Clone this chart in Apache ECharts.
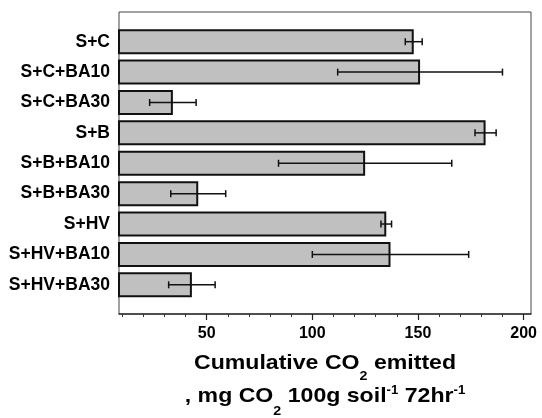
<!DOCTYPE html>
<html>
<head>
<meta charset="utf-8">
<script src="https://cdn.jsdelivr.net/npm/echarts@6/dist/echarts.min.js"></script>
<style>
  html, body { margin: 0; padding: 0; background: #fff; }
  #chart { width: 542px; height: 418px; }
</style>
</head>
<body>
<div id="chart"></div>
<script>
// tratamentos (de cima para baixo)
const categories = ['S+C', 'S+C+BA10', 'S+C+BA30', 'S+B', 'S+B+BA10', 'S+B+BA30', 'S+HV', 'S+HV+BA10', 'S+HV+BA30'];
// CO2 acumulado (mg CO2 100g solo-1 72h-1)
const means = [148, 151, 34, 182, 125, 46, 135, 137, 43];
// desvio (barra de erro, +/-)
const errors = [4, 39, 11, 5, 41, 13, 2.5, 37, 11];
const minorTickValues = [10, 20, 30, 40, 60, 70, 80, 90, 110, 120, 130, 140, 160, 170, 180, 190];
const labelValues = [50, 100, 150, 200];

const xMin = 8.5;
const xMax = 203.5;
const font = '"Liberation Sans", Arial, sans-serif';

const chartDom = document.getElementById('chart');
const myChart = echarts.init(chartDom);

const errorData = means.map((m, i) => [m, i, errors[i]]);

// estilos do título do eixo X (com subscrito / sobrescrito)
const titleRich = {
    t: { fontFamily: font, fontWeight: 'bold', fontSize: 21, fill: '#000', lineHeight: 40 },
    s: { fontFamily: font, fontWeight: 'bold', fontSize: 13, fill: '#000', lineHeight: 13, verticalAlign: 'bottom' },
    s2: { fontFamily: font, fontWeight: 'bold', fontSize: 13, fill: '#000', lineHeight: 9, height: 9, verticalAlign: 'bottom' },
    u: { fontFamily: font, fontWeight: 'bold', fontSize: 12, fill: '#000', lineHeight: 29, height: 29, verticalAlign: 'top' }
};

const option = {
    animation: false,
    grid: [
        // moldura com o eixo X
        { left: 119, right: 11, top: 12, bottom: 104, show: true, borderColor: '#444', borderWidth: 1, backgroundColor: 'transparent', outerBoundsMode: 'none', containLabel: false },
        // área das barras
        { left: 119, right: 11, top: 26.5, height: 273.5, outerBoundsMode: 'none', containLabel: false }
    ],
    xAxis: [
        {
            // ticks principais + rótulos
            gridIndex: 0,
            type: 'value',
            min: xMin,
            max: xMax,
            splitLine: { show: false },
            axisLine: { show: true, lineStyle: { color: '#333', width: 1.5 } },
            axisTick: {
                show: true,
                length: 6,
                customValues: labelValues,
                lineStyle: { color: '#222', width: 1.2 }
            },
            axisLabel: {
                customValues: labelValues,
                color: '#000',
                fontFamily: font,
                fontWeight: 'bold',
                fontSize: 16,
                margin: 12
            }
        },
        {
            // ticks secundários
            gridIndex: 0,
            type: 'value',
            position: 'bottom',
            min: xMin,
            max: xMax,
            splitLine: { show: false },
            axisLine: { show: false },
            axisLabel: { show: false },
            axisTick: {
                show: true,
                length: 3,
                customValues: minorTickValues,
                lineStyle: { color: '#333', width: 1 }
            }
        },
        {
            gridIndex: 1,
            type: 'value',
            min: xMin,
            max: xMax,
            show: false
        }
    ],
    yAxis: [
        {
            gridIndex: 0,
            type: 'value',
            show: false
        },
        {
            gridIndex: 1,
            type: 'category',
            data: categories,
            inverse: true,
            axisLine: { show: false },
            axisTick: { show: false },
            axisLabel: {
                color: '#000',
                fontFamily: font,
                fontWeight: 'bold',
                fontSize: 17.5,
                margin: 9
            }
        }
    ],
    graphic: [
        {
            type: 'text',
            x: 325,
            y: 363,
            scaleX: 1.1,
            style: {
                text: '{t|Cumulative CO}{s|2}{t| emitted}',
                rich: titleRich,
                align: 'center',
                verticalAlign: 'middle'
            }
        },
        {
            type: 'text',
            x: 325,
            y: 396,
            scaleX: 1.1,
            style: {
                text: '{t|, mg CO}{s2|2}{t| 100g soil}{u|-1}{t| 72hr}{u|-1}',
                rich: titleRich,
                align: 'center',
                verticalAlign: 'middle'
            }
        }
    ],
    series: [
        {
            type: 'bar',
            xAxisIndex: 2,
            yAxisIndex: 1,
            data: means,
            barWidth: 25,
            itemStyle: {
                color: '#c0c0c0',
                borderColor: '#111',
                borderWidth: 2
            }
        },
        {
            // barras de erro
            type: 'custom',
            xAxisIndex: 2,
            yAxisIndex: 1,
            data: errorData,
            encode: { x: 0, y: 1 },
            z: 10,
            renderItem: function (params, api) {
                const m = api.value(0);
                const c = api.value(1);
                const e = api.value(2);
                const p1 = api.coord([m - e, c]);
                const p2 = api.coord([m + e, c]);
                const h = 3.5;
                const style = { stroke: '#111', lineWidth: 1.5 };
                return {
                    type: 'group',
                    children: [
                        { type: 'line', shape: { x1: p1[0], y1: p1[1], x2: p2[0], y2: p2[1] }, style: style },
                        { type: 'line', shape: { x1: p1[0], y1: p1[1] - h, x2: p1[0], y2: p1[1] + h }, style: style },
                        { type: 'line', shape: { x1: p2[0], y1: p2[1] - h, x2: p2[0], y2: p2[1] + h }, style: style }
                    ]
                };
            }
        }
    ]
};

myChart.setOption(option);
</script>
</body>
</html>
